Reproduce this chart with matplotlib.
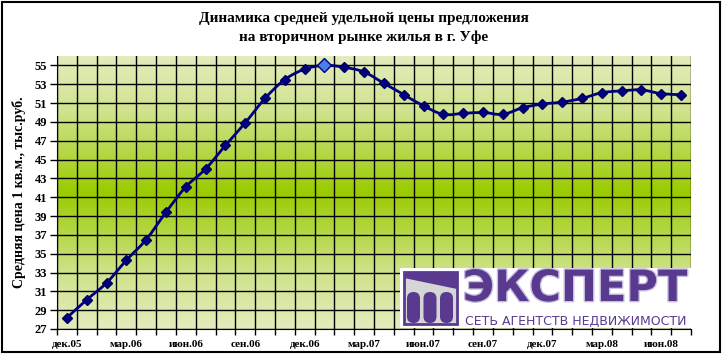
import numpy as np
import matplotlib
matplotlib.use("Agg")
import matplotlib.pyplot as plt
from matplotlib.colors import LinearSegmentedColormap
from matplotlib.path import Path
from matplotlib.patches import PathPatch, Rectangle, Polygon, FancyBboxPatch
import matplotlib.patheffects as pe

# ---- data ----
months = ["дек.05", "янв.06", "фев.06", "мар.06", "апр.06", "май.06", "июн.06", "июл.06",
          "авг.06", "сен.06", "окт.06", "ноя.06", "дек.06", "янв.07", "фев.07", "мар.07",
          "апр.07", "май.07", "июн.07", "июл.07", "авг.07", "сен.07", "окт.07", "ноя.07",
          "дек.07", "янв.08", "фев.08", "мар.08", "апр.08", "май.08", "июн.08", "июл.08"]
prices = [28.2, 30.1, 31.9, 34.3, 36.5, 39.4, 42.1, 44.0, 46.5, 48.9, 51.5, 53.5, 54.6,
          55.0, 54.8, 54.3, 53.1, 51.9, 50.7, 49.8, 49.9, 50.0, 49.8, 50.5, 50.9, 51.1,
          51.5, 52.1, 52.3, 52.4, 52.0, 51.9]
tick_labels = ["дек.05", "мар.06", "июн.06", "сен.06", "дек.06", "мар.07",
               "июн.07", "сен.07", "дек.07", "мар.08", "июн.08"]
y_ticks = list(range(27, 56, 2))
highlight_index = 13

title = "Динамика средней удельной цены предложения\nна вторичном рынке жилья в г. Уфе"
ylabel = "Средняя цена 1 кв.м., тыс.руб."

W, H = 727, 357
fig = plt.figure(figsize=(W / 100, H / 100), dpi=100)
fig.patch.set_facecolor("white")

serif = ["Liberation Serif", "DejaVu Serif"]

ax = fig.add_axes([57 / W, 1 - 329 / H, (691 - 57) / W, (329 - 56) / H])
n = len(prices)
x = np.arange(n)
ax.set_xlim(-0.5, n - 0.5)
ax.set_ylim(27, 56)

# gradient background
cmap = LinearSegmentedColormap.from_list(
    "g", [(0.0, "#e3ecbd"), (0.2, "#d0e38e"), (0.5, "#9acb00"), (0.8, "#d0e38e"), (1.0, "#e3ecbd")])
grad = np.linspace(0, 1, 256).reshape(-1, 1)
ax.imshow(grad, aspect="auto", cmap=cmap, origin="lower",
          extent=[-0.5, n - 0.5, 27, 56], zorder=0, interpolation="bilinear")

# grid
for xv in np.arange(-0.5, n, 1.0):
    ax.axvline(xv, color="black", lw=1.0, zorder=1)
for yv in y_ticks:
    ax.axhline(yv, color="black", lw=1.0, zorder=1)

# smoothed line (Bezier through data points)
pts = np.column_stack([x, prices]).astype(float)
verts = [tuple(pts[0])]
codes = [Path.MOVETO]
t = 1.0 / 6.0
for i in range(n - 1):
    p0 = pts[i - 1] if i > 0 else pts[i]
    p1 = pts[i]
    p2 = pts[i + 1]
    p3 = pts[i + 2] if i + 2 < n else pts[i + 1]
    c1 = p1 + (p2 - p0) * t
    c2 = p2 - (p3 - p1) * t
    verts += [tuple(c1), tuple(c2), tuple(p2)]
    codes += [Path.CURVE4] * 3
ax.add_patch(PathPatch(Path(verts, codes), fill=False, edgecolor="#000080", lw=2.0, zorder=3))

mask = np.ones(n, bool)
mask[highlight_index] = False
ax.plot(x[mask], np.array(prices)[mask], linestyle="none", marker="D", markersize=5.5,
        color="#000080", markeredgecolor="#000060", zorder=4)
ax.plot([x[highlight_index]], [prices[highlight_index]], linestyle="none", marker="D",
        markersize=7.5, color="#4a7fe8", markeredgecolor="#000080", zorder=5)

# axes styling
for s in ["top", "right"]:
    ax.spines[s].set_visible(False)
ax.spines["left"].set_color("black")
ax.spines["bottom"].set_color("black")
ax.set_yticks(y_ticks)
ax.set_yticklabels([str(v) for v in y_ticks], fontfamily=serif, fontweight="bold", fontsize=9)
ax.tick_params(axis="y", length=5, width=1, direction="out", pad=2)
ax.set_xticks(np.arange(-0.5, n, 1.0), minor=True)
ax.tick_params(axis="x", which="minor", length=4, width=1, direction="out")
ax.set_xticks([months.index(m) for m in tick_labels])
ax.set_xticklabels(tick_labels, fontfamily=serif, fontweight="bold", fontsize=8)
ax.tick_params(axis="x", which="major", length=0, pad=8)
ax.set_ylabel(ylabel, fontfamily=serif, fontweight="bold", fontsize=10, labelpad=6)

fig.text(364 / W, 1 - 28 / H, title, ha="center", va="center", fontfamily=serif,
         fontweight="bold", fontsize=11, linespacing=1.5)

# overlay for logo and frame (pixel coordinates)
ov = fig.add_axes([0, 0, 1, 1], zorder=10)
ov.set_xlim(0, W)
ov.set_ylim(H, 0)
ov.axis("off")
ov.patch.set_alpha(0)
purple = "#5a3a8e"
ov.add_patch(Rectangle((400, 268), 291, 60, facecolor="white", edgecolor="none"))
ov.add_patch(Rectangle((404, 272), 53, 52, facecolor="#d6d6d6", edgecolor=purple, lw=2))
ov.add_patch(Polygon([(404, 272), (457, 272), (457, 289), (404, 278)], closed=True,
                     facecolor=purple, edgecolor="none"))
for cx in (413.5, 430, 446.5):
    w = 13
    ov.add_patch(FancyBboxPatch((cx - w / 2, 292), w, 31, boxstyle="round,pad=0,rounding_size=6.5",
                                facecolor=purple, edgecolor="none"))
ov.text(575, 289, "ЭКСПЕРТ", ha="center", va="center", fontsize=31, fontweight="bold",
        family=["DejaVu Sans"], color=purple,
        path_effects=[pe.withStroke(linewidth=2, foreground="#c8c0e0")])
ov.text(576, 321, "СЕТЬ АГЕНТСТВ НЕДВИЖИМОСТИ", ha="center", va="center", fontsize=9,
        family=["DejaVu Sans"], color=purple)

ov.add_patch(Rectangle((2, 2), 718, 350, facecolor="none", edgecolor="black", lw=1.5))

fig.savefig("out.png", dpi=100)
